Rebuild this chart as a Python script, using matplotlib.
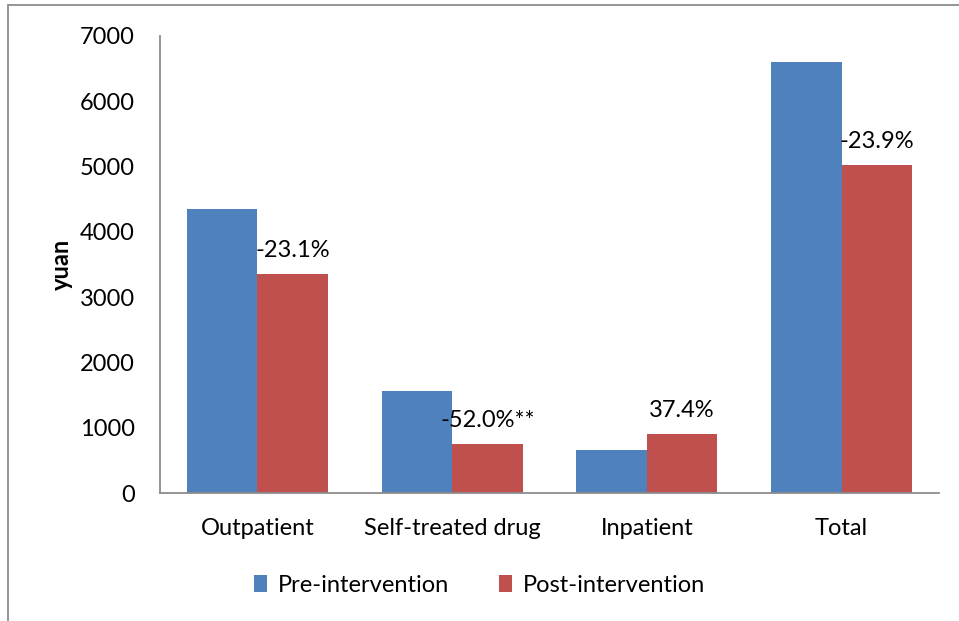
import matplotlib
matplotlib.use('Agg')
import numpy as np
import matplotlib.pyplot as plt
from matplotlib.patches import Rectangle

categories = ["Outpatient", "Self-treated drug", "Inpatient", "Total"]
pre = [4355, 1562, 657, 6600]
post = [3349, 750, 903, 5023]
changes = ["-23.1%", "-52.0%**", "37.4%", "-23.9%"]
yticks = [0, 1000, 2000, 3000, 4000, 5000, 6000, 7000]

plt.rcParams['font.family'] = ['Lato', 'DejaVu Sans']

fig = plt.figure(figsize=(9.59, 6.21), dpi=100)
ax = fig.add_axes([160/959, 1 - 493/621, 779/959, 457/621])

x = np.arange(len(categories))
w = 0.362
ax.bar(x - w/2, pre, w, color="#4F81BD", label="Pre-intervention")
ax.bar(x + w/2, post, w, color="#C0504D", label="Post-intervention")

for xi, v, txt in zip(x, post, changes):
    ax.annotate(txt, (xi + w/2, v), xytext=(0, 17), textcoords="offset points",
                ha="center", va="center", fontsize=17)

ax.set_xlim(-0.5, 3.5)
ax.set_ylim(0, 7000)
ax.set_yticks(yticks)
ax.set_xticks(x)
ax.set_xticklabels(categories)
ax.tick_params(length=0, labelsize=17)
ax.tick_params(axis='y', pad=18)
ax.tick_params(axis='x', pad=18)
ax.set_ylabel("yuan", fontsize=17, fontweight="bold", labelpad=5)
for s in ["top", "right"]:
    ax.spines[s].set_visible(False)
for s in ["left", "bottom"]:
    ax.spines[s].set_color("#8c8c8c")
    ax.spines[s].set_linewidth(1.3)

leg = fig.legend(loc="center", bbox_to_anchor=(0.5, 1 - 585/621), ncol=2,
                 frameon=False, fontsize=17, handlelength=0.55, handleheight=0.7,
                 handletextpad=0.45, columnspacing=2.1)

# outer frame
fig.patches.append(Rectangle((8/959, -0.1), 1.2, 1.1 - 5/621, transform=fig.transFigure,
                             fill=False, edgecolor="#8c8c8c", linewidth=1.3))

fig.savefig("out.png", dpi=100)
